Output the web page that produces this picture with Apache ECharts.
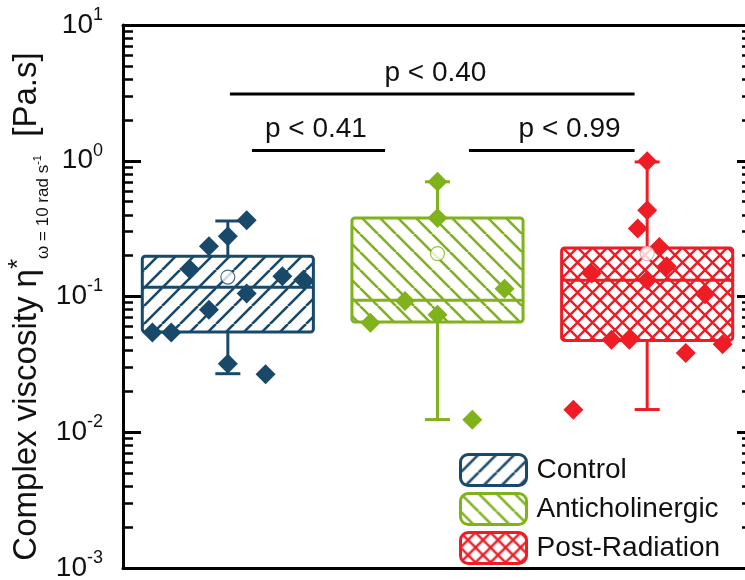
<!DOCTYPE html>
<html>
<head>
<meta charset="utf-8">
<script src="https://cdn.jsdelivr.net/npm/echarts@6/dist/echarts.min.js"></script>
<style>
  html, body { margin: 0; padding: 0; background: #fff; }
  #chart { width: 745px; height: 580px; }
</style>
</head>
<body>
<div id="chart"></div>
<script>
// groups and box statistics (Pa.s)
const groups = ["Control", "Anticholinergic", "Post-Radiation"];
const boxMin = [0.027, 0.0124, 0.0147];
const boxQ1 = [0.0547, 0.0648, 0.0475];
const boxMedian = [0.117, 0.0937, 0.1315];
const boxQ3 = [0.198, 0.379, 0.228];
const boxMax = [0.36, 0.70, 0.98];
const meanValues = [0.139, 0.207, 0.207];

// individual samples: horizontal jitter (in group units) and value
const controlJitter = [0.09, 0, -0.09, -0.18, 0.26, 0.36, 0.09, -0.09, -0.36, -0.27, 0, 0.18];
const controlValues = [0.365, 0.278, 0.235, 0.158, 0.141, 0.133, 0.105, 0.080, 0.0544, 0.0544, 0.032, 0.0267];
const antiJitter = [0, 0, 0.32, -0.155, 0, -0.32, 0.166];
const antiValues = [0.70, 0.379, 0.114, 0.0927, 0.0734, 0.0641, 0.01236];
const postJitter = [0, 0, -0.045, 0.058, 0.093, -0.265, 0, 0.276, -0.17, -0.085, 0.36, 0.184, -0.352];
const postValues = [0.99, 0.432, 0.317, 0.232, 0.167, 0.148, 0.1315, 0.104, 0.048, 0.048, 0.0444, 0.0383, 0.01466];

// significance brackets
const pLabels = ["p < 0.40", "p < 0.41", "p < 0.99"];
const pFrom = [0.01, 0.115, 1.15];
const pTo = [1.94, 0.75, 1.94];
const pLevel = [3.1, 1.19, 1.19];
const pTextX = [0.99, 0.42, 1.63];

const majorTicks = [0.001, 0.01, 0.1, 1, 10];

const FONT = "'Liberation Sans', Arial, sans-serif";
const groupColors = ["#18496b", "#7fb21b", "#ee1c25"];
const meanBorders = ["#18496b", "#7fb21b", "#f7a0a4"];

function hatch(color, size, dirs, lw) {
  const c = document.createElement("canvas");
  c.width = size;
  c.height = size;
  const ctx = c.getContext("2d");
  ctx.fillStyle = "#fff";
  ctx.fillRect(0, 0, size, size);
  ctx.strokeStyle = color;
  ctx.lineWidth = lw;
  dirs.forEach((d) => {
    ctx.beginPath();
    for (let k = -1; k <= 1; k++) {
      if (d === "/") {
        ctx.moveTo(k * size, size);
        ctx.lineTo(k * size + size, 0);
      } else {
        ctx.moveTo(k * size, 0);
        ctx.lineTo(k * size + size, size);
      }
    }
    ctx.stroke();
  });
  return c;
}

const patterns = [
  hatch(groupColors[0], 18, ["/"], 2.6),
  hatch(groupColors[1], 18, ["\\"], 2.6),
  hatch(groupColors[2], 15, ["/", "\\"], 2.4),
];

// minor ticks of the log axis (2..9 x 10^k)
const minorTicks = [];
for (let k = -3; k <= 0; k++) {
  for (let m = 2; m <= 9; m++) minorTicks.push(+(m * Math.pow(10, k)).toPrecision(3));
}

const boxHalf = 0.408;
const capHalf = 12.5;

function renderBox(params, api) {
  const i = api.value(0);
  const color = groupColors[i];
  const lo = api.coord([i, api.value(1)]);
  const q1 = api.coord([i - boxHalf, api.value(2)]);
  const med = api.coord([i, api.value(3)]);
  const q3 = api.coord([i + boxHalf, api.value(4)]);
  const hi = api.coord([i, api.value(5)]);
  const line = { stroke: color, lineWidth: 3 };
  return {
    type: "group",
    children: [
      { type: "line", shape: { x1: lo[0], y1: q1[1], x2: lo[0], y2: lo[1] }, style: line },
      { type: "line", shape: { x1: lo[0] - capHalf, y1: lo[1], x2: lo[0] + capHalf, y2: lo[1] }, style: line },
      { type: "line", shape: { x1: hi[0], y1: q3[1], x2: hi[0], y2: hi[1] }, style: line },
      { type: "line", shape: { x1: hi[0] - capHalf, y1: hi[1], x2: hi[0] + capHalf, y2: hi[1] }, style: line },
      {
        type: "rect",
        shape: { x: q1[0], y: q3[1], width: q3[0] - q1[0], height: q1[1] - q3[1], r: 3 },
        style: { fill: { image: patterns[i], repeat: "repeat" }, stroke: color, lineWidth: 3 },
      },
      { type: "line", shape: { x1: q1[0], y1: med[1], x2: q3[0], y2: med[1] }, style: line },
    ],
  };
}

function renderBracket(params, api) {
  const a = api.coord([api.value(0), api.value(2)]);
  const b = api.coord([api.value(1), api.value(2)]);
  const t = api.coord([api.value(3), api.value(2)]);
  return {
    type: "group",
    children: [
      { type: "line", shape: { x1: a[0], y1: a[1], x2: b[0], y2: b[1] }, style: { stroke: "#000", lineWidth: 3 } },
      {
        type: "text",
        x: t[0],
        y: t[1] - 21,
        style: {
          text: pLabels[params.dataIndex],
          fontSize: 28,
          fontFamily: FONT,
          fill: "#111",
          align: "center",
          verticalAlign: "middle",
        },
      },
    ],
  };
}

const pointSets = [
  [controlJitter, controlValues],
  [antiJitter, antiValues],
  [postJitter, postValues],
];

const chart = echarts.init(document.getElementById("chart"));

const baseX = {
  type: "value",
  min: -0.5,
  max: 2.5,
  axisLine: { show: true, onZero: false, lineStyle: { color: "#000", width: 3 } },
  axisTick: { show: false },
  axisLabel: { show: false },
  splitLine: { show: false },
};

const baseY = {
  type: "log",
  logBase: 10,
  min: 0.001,
  max: 10,
  splitLine: { show: false },
  axisLabel: { show: false },
};

chart.setOption({
  animation: false,
  backgroundColor: "#fff",
  grid: { left: 123, top: 25, width: 629, bottom: 12, outerBoundsMode: "none", containLabel: false },
  xAxis: [
    Object.assign({}, baseX, { position: "bottom" }),
    Object.assign({}, baseX, { position: "top" }),
  ],
  yAxis: [
    Object.assign({}, baseY, {
      position: "left",
      axisLine: { show: true, onZero: false, lineStyle: { color: "#000", width: 3 } },
      axisTick: { inside: true, length: 18, customValues: majorTicks, lineStyle: { color: "#000", width: 3 } },
      axisLabel: {
        show: true,
        margin: 20,
        customValues: majorTicks,
        formatter: (v) => "{b|10}{s|" + Math.round(Math.log10(v)) + "}",
        rich: {
          b: { fontSize: 28, fontFamily: FONT, color: "#111", lineHeight: 38, verticalAlign: "middle" },
          s: { fontSize: 18, fontFamily: FONT, color: "#111", lineHeight: 18, verticalAlign: "top" },
        },
      },
      name: "{m|Complex viscosity η}{sup|*}{sub|ω = 10 rad s}{ssup|-1}{end|  [Pa.s]}",
      nameLocation: "middle",
      nameRotate: 90,
      nameGap: 71,
      nameMoveOverlap: false,
      nameTextStyle: {
        rich: {
          m: { fontSize: 33, fontFamily: FONT, color: "#111", lineHeight: 50, verticalAlign: "middle" },
          end: { fontSize: 33, fontFamily: FONT, color: "#111", lineHeight: 50, verticalAlign: "middle", padding: [0, 20, 0, 0] },
          sup: { fontSize: 26, fontFamily: FONT, color: "#111", lineHeight: 26, verticalAlign: "top", padding: [4, 0, 0, 0] },
          sub: { fontSize: 17, fontFamily: FONT, color: "#111", lineHeight: 17, verticalAlign: "bottom" },
          ssup: { fontSize: 11, fontFamily: FONT, color: "#111", lineHeight: 11, verticalAlign: "bottom", padding: [0, 0, 9, 0] },
        },
      },
    }),
    Object.assign({}, baseY, {
      position: "left",
      axisLine: { show: false, onZero: false },
      axisTick: { inside: true, length: 10, customValues: minorTicks, lineStyle: { color: "#000", width: 2.5 } },
    }),
    Object.assign({}, baseY, {
      position: "right",
      axisLine: { show: true, onZero: false, lineStyle: { color: "#000", width: 3 } },
      axisTick: { inside: true, length: 15, customValues: majorTicks, lineStyle: { color: "#000", width: 3 } },
    }),
    Object.assign({}, baseY, {
      position: "right",
      axisLine: { show: false, onZero: false },
      axisTick: { inside: true, length: 10, customValues: minorTicks, lineStyle: { color: "#000", width: 2.5 } },
    }),
  ],
  legend: {
    orient: "vertical",
    left: 459,
    top: 453,
    padding: 0,
    itemWidth: 66,
    itemHeight: 31,
    itemGap: 5,
    icon: "roundRect",
    selectedMode: false,
    textStyle: { fontSize: 28, fontFamily: FONT, color: "#111", lineHeight: 31, padding: [0, 0, 0, 5] },
    data: groups.map((g, i) => ({
      name: g,
      itemStyle: {
        color: { image: patterns[i], repeat: "repeat" },
        borderColor: groupColors[i],
        borderWidth: 3,
      },
    })),
  },
  series: [
    ...groups.map((g, i) => ({
      name: g,
      type: "custom",
      renderItem: renderBox,
      encode: { x: 0, y: [1, 2, 3, 4, 5] },
      itemStyle: { color: groupColors[i] },
      data: [[i, boxMin[i], boxQ1[i], boxMedian[i], boxQ3[i], boxMax[i]]],
      z: 2,
    })),
    ...pointSets.map(([jit, vals], i) => ({
      name: groups[i] + " samples",
      type: "scatter",
      symbol: "diamond",
      symbolSize: 20,
      itemStyle: { color: groupColors[i], opacity: 1 },
      data: vals.map((v, k) => [i + jit[k], v]),
      z: 3,
    })),
    {
      name: "Mean",
      type: "scatter",
      symbol: "circle",
      symbolSize: 14,
      data: meanValues.map((v, i) => ({
        value: [i, v],
        itemStyle: { color: "#fff", borderColor: meanBorders[i], borderWidth: 1.2 },
      })),
      z: 4,
    },
    {
      name: "Significance",
      type: "custom",
      renderItem: renderBracket,
      encode: { x: [0, 1, 3], y: 2 },
      data: pLabels.map((t, i) => [pFrom[i], pTo[i], pLevel[i], pTextX[i]]),
      z: 5,
    },
  ],
});
</script>
</body>
</html>
